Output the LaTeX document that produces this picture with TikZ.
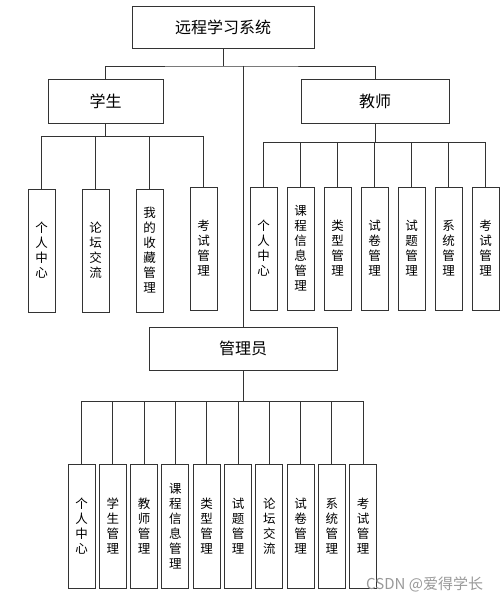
\documentclass[tikz,border=0pt]{standalone}
\usepackage{fontspec}
\setmainfont{Noto Sans CJK SC}
\newfontfamily\cjk{Noto Sans CJK SC}
\begin{document}
\begin{tikzpicture}[x=1pt,y=-1pt,
  box/.style={draw=black!80,line width=0.9pt,fill=white,inner sep=0pt,font=\cjk},
  topbox/.style={box,minimum height=43pt,font=\cjk\fontsize{16}{18}\selectfont},
  leaf/.style={box,minimum width=27pt,minimum height=123pt,align=center,
    font=\cjk\fontsize{12.5}{15}\selectfont},
  link/.style={draw=black!80,line width=0.9pt}]
\useasboundingbox (0,0) rectangle (500,601);
% top level
\node[topbox,minimum width=182pt,minimum height=42pt] (root) at (223,27) {远程学习系统};
\node[topbox,minimum width=115pt,minimum height=44pt] (stu) at (105.5,101) {学生};
\node[topbox,minimum width=148pt,minimum height=44pt] (tea) at (375,101) {教师};
\node[topbox,minimum width=188pt] (adm) at (243,348.5) {管理员};
\coordinate (rb) at (223,66);
\draw[link] (root.south) -- (rb);
\draw[link] (stu.north) |- (rb) -| (tea.north);
\draw[link] (rb -| adm.north) -- (adm.north);
% student leaves
\node[leaf] (s1) at (41.5,250.5) {个\\人\\中\\心};
\node[leaf] (s2) at (95.5,250.5) {论\\坛\\交\\流};
\node[leaf] (s3) at (149.5,250.5) {我\\的\\收\\藏\\管\\理};
\node[leaf] (s4) at (203.5,248.5) {考\\试\\管\\理};
\coordinate (sb) at (105.5,136);
\draw[link] (stu.south) -- (sb);
\foreach \i in {1,...,4} \draw[link] (sb) -| (s\i.north);
% teacher leaves
\node[leaf] (t1) at (263.5,248.5) {个\\人\\中\\心};
\node[leaf] (t2) at (300.5,248.5) {课\\程\\信\\息\\管\\理};
\node[leaf] (t3) at (337.5,248.5) {类\\型\\管\\理};
\node[leaf] (t4) at (374.5,248.5) {试\\卷\\管\\理};
\node[leaf] (t5) at (411.5,248.5) {试\\题\\管\\理};
\node[leaf] (t6) at (448.5,248.5) {系\\统\\管\\理};
\node[leaf] (t7) at (485.5,248.5) {考\\试\\管\\理};
\coordinate (tb) at (375,142);
\draw[link] (tea.south) -- (tb);
\foreach \i in {1,...,7} \draw[link] (tb) -| (t\i.north);
% admin leaves
\node[leaf,minimum height=124pt] (a1) at (81.5,526) {个\\人\\中\\心};
\node[leaf,minimum height=124pt] (a2) at (112.8,526) {学\\生\\管\\理};
\node[leaf,minimum height=124pt] (a3) at (144.1,526) {教\\师\\管\\理};
\node[leaf,minimum height=124pt] (a4) at (175.4,526) {课\\程\\信\\息\\管\\理};
\node[leaf,minimum height=124pt] (a5) at (206.7,526) {类\\型\\管\\理};
\node[leaf,minimum height=124pt] (a6) at (238,526) {试\\题\\管\\理};
\node[leaf,minimum height=124pt] (a7) at (269.3,526) {论\\坛\\交\\流};
\node[leaf,minimum height=124pt] (a8) at (300.6,526) {试\\卷\\管\\理};
\node[leaf,minimum height=124pt] (a9) at (331.9,526) {系\\统\\管\\理};
\node[leaf,minimum height=124pt] (a10) at (363.2,526) {考\\试\\管\\理};
\coordinate (ab) at (243,401);
\draw[link] (adm.south) -- (ab);
\foreach \i in {1,...,10} \draw[link] (ab) -| (a\i.north);
% watermark
\node[font=\cjk\fontsize{15}{17}\selectfont,text=black!40,anchor=west,inner sep=0pt] (wm) at (366,584) {CSDN @爱得学长};
\end{tikzpicture}
\end{document}
